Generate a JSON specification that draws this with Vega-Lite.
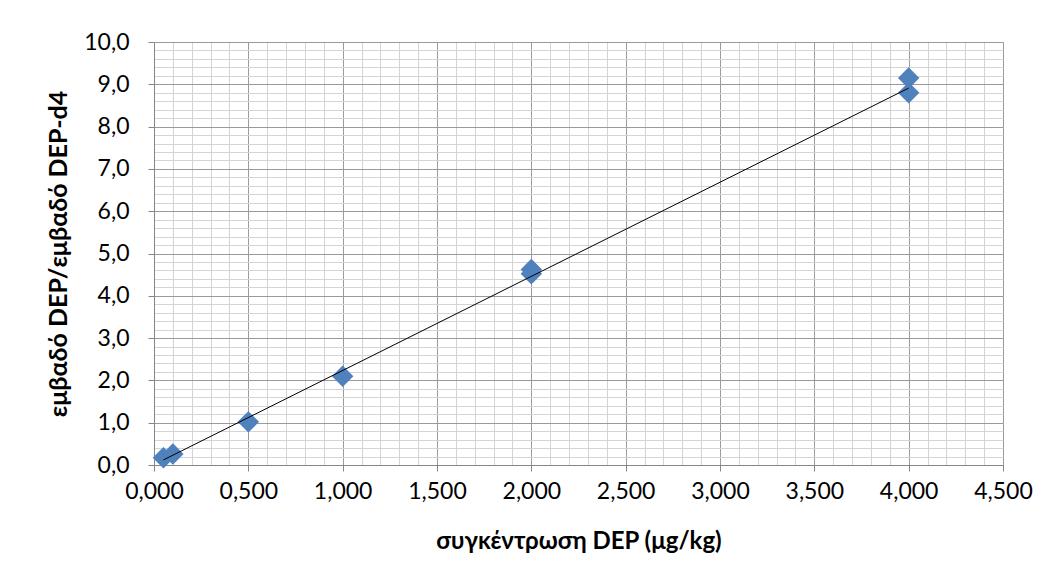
{
  "$schema": "https://vega.github.io/schema/vega-lite/v6.json",
  "width": 849,
  "height": 423,
  "autosize": {"type": "none"},
  "padding": {"left": 154, "top": 42, "right": 48, "bottom": 116},
  "background": "white",
  "config": {
    "view": {"stroke": null},
    "font": "Lato",
    "axis": {"labelFont": "Lato", "titleFont": "Lato", "labelColor": "#000000", "titleColor": "#000000"}
  },
  "datasets": {
    "points": [
      {"conc": 0.05, "ratio": 0.17},
      {"conc": 0.1, "ratio": 0.26},
      {"conc": 0.5, "ratio": 1.02},
      {"conc": 1.0, "ratio": 2.1},
      {"conc": 2.0, "ratio": 4.62},
      {"conc": 2.0, "ratio": 4.52},
      {"conc": 4.0, "ratio": 9.15},
      {"conc": 4.0, "ratio": 8.8}
    ],
    "trend": [
      {"conc": 0.05, "ratio": 0.12},
      {"conc": 4.0, "ratio": 8.91}
    ]
  },
  "layer": [
    {
      "data": {"name": "trend"},
      "mark": {"type": "line", "opacity": 0},
      "encoding": {
        "x": {"field": "conc", "type": "quantitative", "scale": {"domain": [0, 4.5], "nice": false, "zero": false},
          "axis": {"orient": "bottom", "values": [0,0.1,0.2,0.3,0.4,0.5,0.6,0.7,0.8,0.9,1,1.1,1.2,1.3,1.4,1.5,1.6,1.7,1.8,1.9,2,2.1,2.2,2.3,2.4,2.5,2.6,2.7,2.8,2.9,3,3.1,3.2,3.3,3.4,3.5,3.6,3.7,3.8,3.9,4,4.1,4.2,4.3,4.4,4.5],
            "grid": true, "gridColor": "#d4d4d4", "gridWidth": 1, "labels": false, "ticks": false, "domain": false, "title": null}},
        "y": {"field": "ratio", "type": "quantitative", "scale": {"domain": [0, 10], "nice": false, "zero": false},
          "axis": {"orient": "left", "values": [0,0.2,0.4,0.6,0.8,1,1.2,1.4,1.6,1.8,2,2.2,2.4,2.6,2.8,3,3.2,3.4,3.6,3.8,4,4.2,4.4,4.6,4.8,5,5.2,5.4,5.6,5.8,6,6.2,6.4,6.6,6.8,7,7.2,7.4,7.6,7.8,8,8.2,8.4,8.6,8.8,9,9.2,9.4,9.6,9.8,10],
            "grid": true, "gridColor": "#d4d4d4", "gridWidth": 1, "labels": false, "ticks": false, "domain": false, "title": null}}
      }
    },
    {
      "data": {"name": "points"},
      "mark": {"type": "point", "shape": "diamond", "filled": true, "color": "#4f81bd", "opacity": 1, "size": 460},
      "encoding": {
        "x": {"field": "conc", "type": "quantitative",
          "axis": {"orient": "bottom", "values": [0,0.5,1,1.5,2,2.5,3,3.5,4,4.5],
            "grid": true, "gridColor": "#9a9a9a", "gridWidth": 1,
            "domain": true, "domainColor": "#868686", "ticks": true, "tickColor": "#868686", "tickSize": 6,
            "labelExpr": "replace(format(datum.value, '.3f'), '.', ',')",
            "labelFlush": false, "labelOverlap": false,
            "labelFontSize": 23, "labelPadding": 9,
            "title": "συγκέντρωση DEP  (μg/kg)", "titleFontSize": 24, "titleFontWeight": "bold", "titlePadding": 26}},
        "y": {"field": "ratio", "type": "quantitative",
          "axis": {"orient": "left", "values": [0,1,2,3,4,5,6,7,8,9,10],
            "grid": true, "gridColor": "#9a9a9a", "gridWidth": 1,
            "domain": true, "domainColor": "#868686", "ticks": true, "tickColor": "#868686", "tickSize": 6,
            "labelExpr": "replace(format(datum.value, '.1f'), '.', ',')",
            "labelFlush": false, "labelOverlap": false,
            "labelFontSize": 23, "labelPadding": 19,
            "title": "εμβαδό DEP/εμβαδό DEP-d4", "titleFontSize": 25, "titleFontWeight": "bold", "titlePadding": 12}}
      }
    },
    {
      "data": {"name": "trend"},
      "mark": {"type": "line", "color": "#000000", "strokeWidth": 1},
      "encoding": {
        "x": {"field": "conc", "type": "quantitative", "axis": null},
        "y": {"field": "ratio", "type": "quantitative", "axis": null}
      }
    }
  ],
  "resolve": {"axis": {"x": "independent", "y": "independent"}}
}
